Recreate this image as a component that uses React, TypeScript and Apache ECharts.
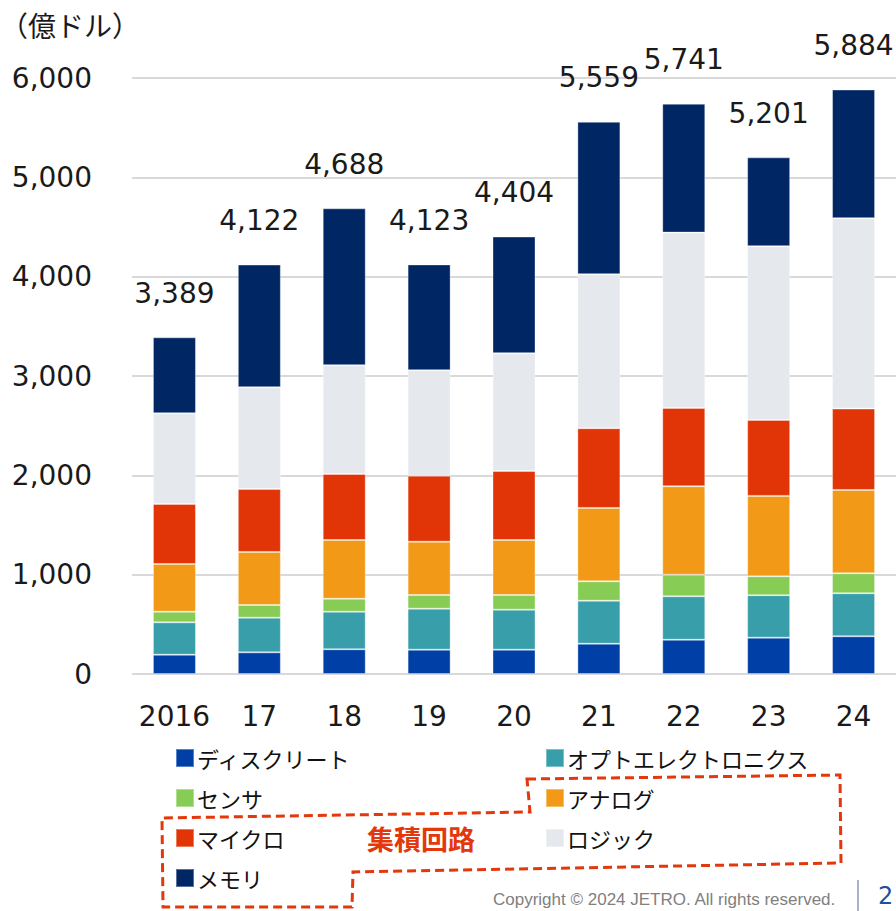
import React, { useEffect, useRef } from "react";
import * as echarts from "echarts";

const years = ["2016", "17", "18", "19", "20", "21", "22", "23", "24"];
const seriesNames = ["ディスクリート", "オプトエレクトロニクス", "センサ", "アナログ", "マイクロ", "ロジック", "メモリ"];
const discrete = [194, 218, 249, 245, 245, 305, 345, 366, 380];
const opto = [326, 349, 378, 413, 403, 433, 437, 427, 433];
const sensor = [107, 128, 131, 138, 148, 195, 218, 191, 201];
const analog = [481, 534, 591, 536, 553, 739, 890, 809, 839];
const micro = [604, 634, 665, 665, 695, 802, 789, 765, 819];
const logic = [913, 1024, 1095, 1061, 1186, 1551, 1765, 1749, 1917];
const memory = [764, 1235, 1579, 1065, 1174, 1534, 1297, 894, 1295];
const totals = [3389, 4122, 4688, 4123, 4404, 5559, 5741, 5201, 5884];
const yTicks = [0, 1000, 2000, 3000, 4000, 5000, 6000];
const unitLabel = "（億ドル）";
const icLabel = "集積回路";
const copyright = "Copyright © 2024 JETRO. All rights reserved.";
const pageNo = "2";

const colors = ["#003fa5", "#389ea9", "#87cc55", "#f29a18", "#e23507", "#e5e8ed", "#002663"];
const seriesData = [discrete, opto, sensor, analog, micro, logic, memory];

const NUM_FONT = "DejaVu Sans, Verdana, sans-serif";
const JP_FONT = "Noto Sans CJK JP, sans-serif";

export default function App() {
  const ref = useRef<HTMLDivElement>(null);
  useEffect(() => {
    if (!ref.current) return;
    const chart = echarts.init(ref.current, null, { renderer: "svg" });
    const fmt = (v: number) => v.toLocaleString("en-US");
    const series: any[] = seriesNames.map((name, i) => ({
      name,
      type: "bar",
      stack: "total",
      barWidth: 43,
      data: seriesData[i],
      itemStyle: { color: colors[i], borderColor: "rgba(255,255,255,0.35)", borderWidth: 1 },
      label:
        i === seriesNames.length - 1
          ? {
              show: true,
              position: "top",
              distance: 30,
              formatter: (p: any) => fmt(totals[p.dataIndex]),
              fontSize: 28,
              fontFamily: NUM_FONT,
              color: "#1a1a1a",
            }
          : { show: false },
    }));
    const legendCommon = {
      orient: "vertical",
      top: 745,
      padding: 0,
      itemWidth: 18,
      itemHeight: 18,
      itemGap: 14,
      icon: "rect",
      selectedMode: false,
      textStyle: { fontSize: 22, fontFamily: JP_FONT, color: "#111", lineHeight: 26, padding: [0, 0, 0, -2] },
    };
    chart.setOption({
      animation: false,
      backgroundColor: "#ffffff",
      grid: { left: 132, top: 78, width: 765, height: 596, containLabel: false },
      legend: [
        { ...legendCommon, left: 175, data: [seriesNames[0], seriesNames[2], seriesNames[4], seriesNames[6]] },
        { ...legendCommon, left: 545, data: [seriesNames[1], seriesNames[3], seriesNames[5]] },
      ],
      xAxis: {
        type: "category",
        data: years,
        axisLine: { show: false },
        axisTick: { show: false },
        axisLabel: { interval: 0, margin: 28, fontSize: 28, fontFamily: NUM_FONT, color: "#1a1a1a" },
      },
      yAxis: {
        type: "value",
        min: yTicks[0],
        max: yTicks[yTicks.length - 1],
        interval: 1000,
        axisLine: { show: false },
        axisTick: { show: false },
        splitLine: { lineStyle: { color: "#d9d9d9", width: 2 } },
        axisLabel: {
          margin: 40,
          fontSize: 28,
          fontFamily: NUM_FONT,
          color: "#1a1a1a",
          formatter: (v: number) => fmt(v),
        },
      },
      series,
      graphic: [
        {
          type: "text",
          x: 0,
          y: 25,
          style: { text: unitLabel, fontSize: 28, fontFamily: JP_FONT, fill: "#1a1a1a", verticalAlign: "middle" },
        },
        {
          type: "polygon",
          shape: {
            points: [
              [527, 779],
              [840, 775],
              [841, 863],
              [353, 872],
              [352, 907],
              [163, 907],
              [162, 818],
              [530, 812],
            ],
          },
          style: { fill: "none", stroke: "#e2380b", lineWidth: 3, lineDash: [9, 5] },
        },
        {
          type: "text",
          x: 421,
          y: 838,
          style: {
            text: icLabel,
            fontSize: 27,
            fontWeight: "bold",
            fontFamily: JP_FONT,
            fill: "#e2380b",
            align: "center",
            verticalAlign: "middle",
          },
        },
        {
          type: "text",
          x: 493,
          y: 891,
          style: { text: copyright, fontSize: 17, fontFamily: "Liberation Sans, Arial, sans-serif", fill: "#808080", verticalAlign: "top" },
        },
        {
          type: "line",
          shape: { x1: 858, y1: 880, x2: 858, y2: 911 },
          style: { stroke: "#a9b4c9", lineWidth: 2 },
        },
        {
          type: "text",
          x: 878,
          y: 884,
          style: { text: pageNo, fontSize: 24, fontFamily: NUM_FONT, fill: "#1f4fa0", verticalAlign: "top" },
        },
      ],
    });
    return () => chart.dispose();
  }, []);
  return <div ref={ref} style={{ position: "absolute", left: 0, top: 0, width: 896, height: 911 }} />;
}
